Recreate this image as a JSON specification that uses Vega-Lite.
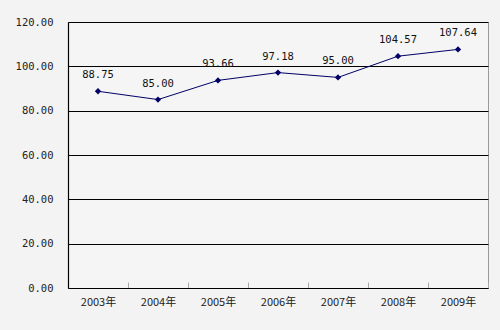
{
  "$schema": "https://vega.github.io/schema/vega-lite/v6.json",
  "width": 420,
  "height": 266,
  "autosize": {"type": "none"},
  "padding": {"left": 68, "top": 22, "right": 12, "bottom": 42},
  "background": "#f3f3f3",
  "config": {
    "view": {"stroke": "#999999", "strokeWidth": 1, "fill": "#f5f5f5"},
    "font": "Noto Sans CJK SC"
  },
  "data": {
    "values": [
      {"year": "2003年", "value": 88.75},
      {"year": "2004年", "value": 85.00},
      {"year": "2005年", "value": 93.66},
      {"year": "2006年", "value": 97.18},
      {"year": "2007年", "value": 95.00},
      {"year": "2008年", "value": 104.57},
      {"year": "2009年", "value": 107.64}
    ]
  },
  "encoding": {
    "x": {
      "field": "year",
      "type": "ordinal",
      "scale": {"paddingInner": 0, "paddingOuter": 0},
      "axis": {
        "title": null,
        "labelAngle": 0,
        "labelFont": "Noto Sans CJK SC",
        "labelFontSize": 11,
        "labelColor": "#222222",
        "labelPadding": 14,
        "domainColor": "#000000",
        "domainWidth": 1.2,
        "tickColor": "#aaaaaa",
        "tickSize": -6,
        "tickBand": "extent",
        "grid": false
      }
    },
    "y": {
      "field": "value",
      "type": "quantitative",
      "scale": {"domain": [0, 120], "nice": false, "zero": true},
      "axis": {
        "title": null,
        "values": [0, 20, 40, 60, 80, 100, 120],
        "format": ".2f",
        "labelFont": "DejaVu Sans Mono",
        "labelFontSize": 10.5,
        "labelColor": "#222222",
        "labelPadding": 15,
        "ticks": false,
        "domainColor": "#000000",
        "domainWidth": 1.2,
        "grid": true,
        "gridColor": "#000000",
        "gridWidth": 1,
        "gridOpacity": 1
      }
    }
  },
  "layer": [
    {
      "mark": {"type": "line", "color": "#000066", "strokeWidth": 1,
        "point": {"shape": "diamond", "filled": true, "size": 40, "color": "#000066"}}
    },
    {
      "mark": {"type": "text", "dy": -16, "font": "DejaVu Sans Mono", "fontSize": 10.5, "color": "#111111"},
      "encoding": {"text": {"field": "value", "type": "quantitative", "format": ".2f"}}
    }
  ]
}
